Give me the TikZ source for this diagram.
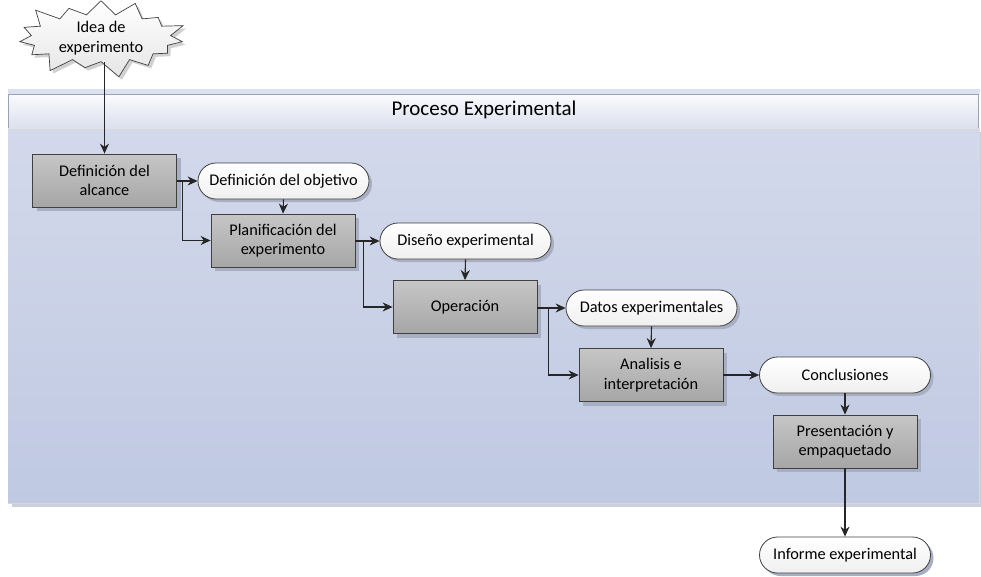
\documentclass[tikz,border=0pt]{standalone}
\usepackage{fontspec}
\setmainfont{Carlito}
\usetikzlibrary{shapes.symbols,shadows,arrows.meta}
\definecolor{bodytop}{HTML}{D3D9EB}
\definecolor{bodybot}{HTML}{BFC9E2}
\definecolor{hdrtop}{HTML}{FAFBFD}
\definecolor{hdrbot}{HTML}{DCE0EE}
\definecolor{hdrline}{HTML}{9CA2B6}
\definecolor{boxtop}{HTML}{C6C6C6}
\definecolor{boxbot}{HTML}{A6A6A6}
\definecolor{edge}{HTML}{404040}
\definecolor{shade}{HTML}{A9AFC2}
\tikzset{
  lbl/.style={font=\fontsize{16.3}{19.5}\selectfont},
  proc/.style={lbl, draw=edge, line width=0.8pt, top color=boxtop, bottom color=boxbot,
    minimum width=144pt, minimum height=53pt, align=center, inner sep=1pt,
    general shadow={fill=shade, shadow xshift=4pt, shadow yshift=-4pt}},
  pill/.style={lbl, draw=edge, line width=0.8pt, rounded corners=18pt, top color=white, bottom color=black!6,
    minimum width=171pt, minimum height=36pt, align=center, inner sep=1pt,
    general shadow={fill=shade, shadow xshift=3pt, shadow yshift=-3pt}},
  conn/.style={draw=black!85, line width=1.1pt, -{Stealth[length=10pt,width=9pt]}},
}
\begin{document}
\begin{tikzpicture}[x=1pt,y=-1pt]
\useasboundingbox (0,0) rectangle (981,576);
% container
\fill[shade!60] (12,132) rectangle (983,507);
\shade[top color=bodytop, bottom color=bodybot] (8,128) rectangle (979,503);
\draw[black!15, line width=0.6pt] (8,503) -- (979,503) -- (979,128);
\fill[bodytop!80!white] (8,89) rectangle (980,94);
\shade[top color=hdrtop, bottom color=hdrbot] (8,94) rectangle (979,128);
\draw[hdrline, line width=1pt] (8,94) -- (979,94);
\draw[hdrline, line width=1.2pt] (8.6,95) -- (8.6,128);
\draw[hdrline, line width=1.2pt] (978.4,95) -- (978.4,128);
\draw[black!12, line width=0.6pt] (8,128.5) -- (979,128.5);
\node[font=\fontsize{21}{24}\selectfont] (title) at (484,110) {Proceso Experimental};
% start
\node[starburst, starburst points=15, starburst point height=19pt, draw=edge, line width=0.7pt,
  top color=white, bottom color=black!10, minimum width=178pt, minimum height=74pt,
  align=center, lbl, inner sep=0pt,
  general shadow={fill=black!18, shadow xshift=3pt, shadow yshift=-3pt}]
  (idea) at (101,38) {Idea de\\experimento};
% nodes
\node[proc] (alc) at (104.5,180.5) {Definición del\\alcance};
\node[pill] (obj) at (283.5,181) {Definición del objetivo};
\node[proc] (plan) at (283,240.5) {Planificación del\\experimento};
\node[pill] (dis) at (465.5,241) {Diseño experimental};
\node[proc] (op) at (465,307) {Operación};
\node[pill] (dat) at (651.5,308) {Datos experimentales};
\node[proc] (an) at (651,375) {Analisis e\\interpretación};
\node[pill] (con) at (845,375) {Conclusiones};
\node[proc] (pre) at (845,441.5) {Presentación y\\empaquetado};
\node[pill] (inf) at (845,555) {Informe experimental};
% connectors
\draw[conn] (idea.south -| alc.north) -- (alc.north);
\draw[conn] (alc.east |- obj.west) -- (obj.west);
\draw[conn] ([xshift=6pt]alc.east |- obj.west) |- (plan.west);
\draw[conn] (obj.south) -- (plan.north);
\draw[conn] (plan.east |- dis.west) -- (dis.west);
\draw[conn] ([xshift=8pt]plan.east |- dis.west) |- (op.west);
\draw[conn] (dis.south) -- (op.north);
\draw[conn] (op.east |- dat.west) -- (dat.west);
\draw[conn] ([xshift=11pt]op.east |- dat.west) |- (an.west);
\draw[conn] (dat.south) -- (an.north);
\draw[conn] (an.east) -- (con.west);
\draw[conn] (con.south) -- (pre.north);
\draw[conn] (pre.south) -- (inf.north);
\end{tikzpicture}
\end{document}
